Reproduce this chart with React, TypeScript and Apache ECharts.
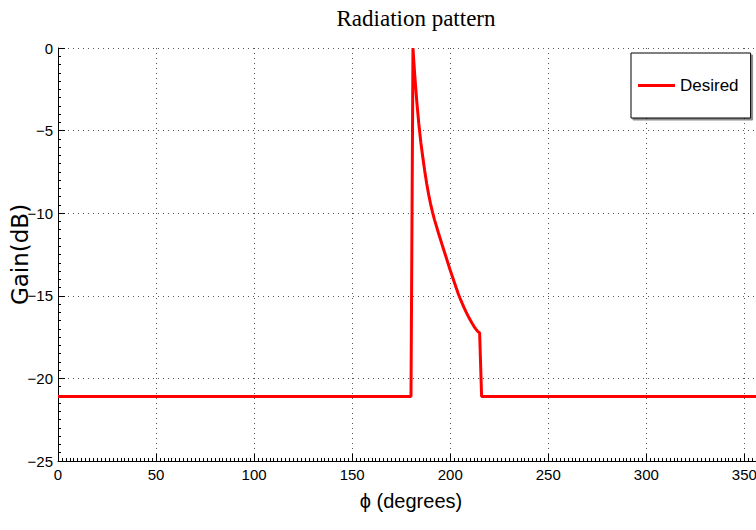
import React, { useEffect, useRef } from "react";
import * as echarts from "echarts";

const phiDeg = [0, 180, 181, 182, 183, 184, 185, 186, 187, 188, 189, 190, 191, 192, 193, 194, 195, 196, 197, 198, 199, 200, 201, 202, 203, 204, 205, 206, 207, 208, 209, 210, 211, 212, 213, 214, 215, 216, 360];
const gainDb = [-21.1, -21.1, 0, -1.8, -3.3, -4.6, -5.7, -6.6, -7.45, -8.2, -8.87, -9.45, -9.95, -10.4, -10.8, -11.2, -11.58, -11.96, -12.33, -12.7, -13.08, -13.45, -13.8, -14.15, -14.5, -14.85, -15.15, -15.43, -15.7, -15.96, -16.2, -16.42, -16.63, -16.83, -17.0, -17.15, -17.25, -21.1, -21.1];
const seriesName = "Desired";
const titleText = "Radiation pattern";
const xName = "ϕ (degrees)";
const yName = "Gain(dB)";

const narrow = "'Liberation Sans Narrow', 'Arial Narrow', 'Liberation Sans', sans-serif";

export default function App() {
  const ref = useRef<HTMLDivElement>(null);
  useEffect(() => {
    if (!ref.current) return;
    const chart = echarts.init(ref.current, null, { renderer: "svg" });
    const data = phiDeg.map((p, i) => [p, gainDb[i]]);
    chart.setOption({
      animation: false,
      backgroundColor: "#fff",
      title: {
        text: titleText,
        left: 411,
        textAlign: "center",
        top: 2,
        textStyle: { fontFamily: "'Liberation Serif', 'Times New Roman', serif", fontSize: 23, fontWeight: "normal", color: "#000" },
      },
      legend: {
        left: 631,
        top: 53,
        orient: "vertical",
        icon: "rect",
        itemWidth: 37,
        itemHeight: 3,
        itemGap: 5,
        padding: [24, 12, 24, 7],
        backgroundColor: "#fff",
        borderColor: "#000",
        borderWidth: 1,
        shadowColor: "rgba(0,0,0,0.45)",
        shadowOffsetX: 2,
        shadowOffsetY: 2,
        shadowBlur: 0,
        textStyle: { fontFamily: narrow, fontSize: 17, color: "#000" },
        data: [seriesName],
      },
      grid: { left: 58, top: 48, width: 706, height: 413, containLabel: false, outerBoundsMode: "none" },
      xAxis: {
        type: "value",
        min: 0,
        max: 360,
        interval: 50,
        name: xName,
        nameLocation: "middle",
        nameGap: 30,
        nameMoveOverlap: false,
        nameTextStyle: { fontFamily: narrow, fontSize: 20, color: "#000" },
        axisLine: { show: true, onZero: false, lineStyle: { color: "#000", width: 1 } },
        axisTick: { show: true, inside: true, length: 7, lineStyle: { color: "#000" } },
        minorTick: { show: true, splitNumber: 25, length: 3, lineStyle: { color: "#000" } },
        axisLabel: { fontFamily: narrow, fontSize: 15, color: "#000", margin: 6, showMaxLabel: false },
        splitLine: { show: true, lineStyle: { color: "#555", type: [1, 4], width: 1 } },
      },
      yAxis: {
        type: "value",
        min: -25,
        max: 0,
        interval: 5,
        name: yName,
        nameLocation: "middle",
        nameGap: 27,
        nameMoveOverlap: false,
        nameTextStyle: { fontFamily: "'DejaVu Sans', sans-serif", fontSize: 23, color: "#000" },
        axisLine: { show: true, onZero: false, lineStyle: { color: "#000", width: 1 } },
        axisTick: { show: true, inside: true, length: 7, lineStyle: { color: "#000" } },
        minorTick: { show: true, splitNumber: 10, length: 3, lineStyle: { color: "#000" } },
        axisLabel: {
          fontFamily: narrow,
          fontSize: 15,
          color: "#000",
          margin: 5,
          formatter: (v: number) => String(v).replace("-", "\u2212"),
        },
        splitLine: { show: true, lineStyle: { color: "#555", type: [1, 4], width: 1 } },
      },
      series: [
        {
          name: seriesName,
          type: "line",
          data,
          showSymbol: false,
          symbol: "none",
          color: "#ff0000",
          lineStyle: { color: "#ff0000", width: 3 },
        },
      ],
    });
    return () => chart.dispose();
  }, []);
  return <div ref={ref} style={{ width: 756, height: 530, position: "absolute", left: 0, top: 0 }} />;
}
